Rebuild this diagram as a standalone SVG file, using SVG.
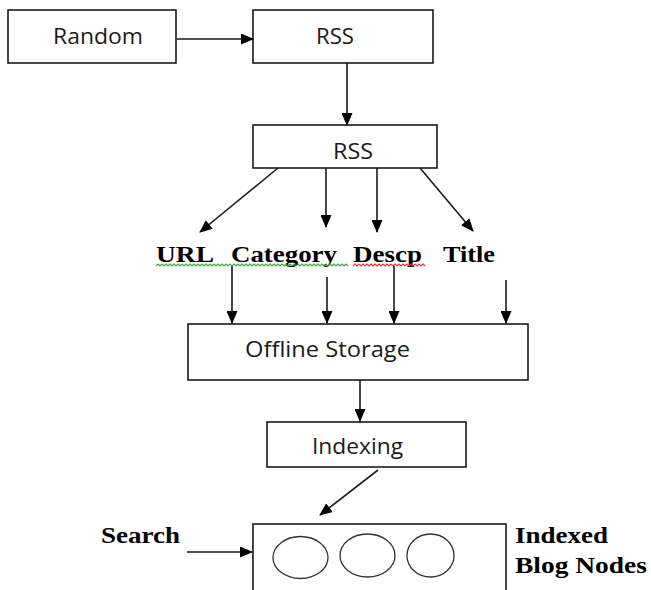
<svg xmlns="http://www.w3.org/2000/svg" width="651" height="590" viewBox="0 0 651 590">
<style>
.box{fill:#fff;stroke:#1a1a1a;stroke-width:1.6}
.t{font-family:"Open Sans","Liberation Sans",sans-serif;font-size:21px;fill:#1a1a1a}
.b{font-family:"Liberation Serif","Times New Roman",serif;font-weight:bold;font-size:24px;fill:#000}
.c{fill:none;stroke:#1a1a1a;stroke-width:1.6;marker-end:url(#ah)}
.e{fill:none;stroke:#333;stroke-width:1.3}
</style>
<defs>
<marker id="ah" markerWidth="13" markerHeight="11" refX="12" refY="5.5" orient="auto" markerUnits="userSpaceOnUse">
<path d="M0,0 L13,5.5 L0,11 Z" fill="#000"/>
</marker>
</defs>
<rect width="651" height="590" fill="#fff"/>
<g id="random"><rect class="box" x="8" y="10" width="168" height="53"/><text class="t" x="53" y="44" textLength="90" lengthAdjust="spacingAndGlyphs">Random</text></g>
<g id="rss1"><rect class="box" x="253" y="10" width="180" height="53"/><text class="t" x="316" y="44" textLength="38" lengthAdjust="spacingAndGlyphs">RSS</text></g>
<g id="rss2"><rect class="box" x="253" y="125" width="184" height="43"/><text class="t" x="333" y="159" textLength="40" lengthAdjust="spacingAndGlyphs">RSS</text></g>
<g id="url"><text class="b" x="156" y="262" textLength="58" lengthAdjust="spacingAndGlyphs">URL</text></g>
<g id="category"><text class="b" x="231" y="262" textLength="106" lengthAdjust="spacingAndGlyphs">Category</text></g>
<g id="descp"><text class="b" x="353" y="262" textLength="69" lengthAdjust="spacingAndGlyphs">Descp</text></g>
<g id="title"><text class="b" x="443" y="262" textLength="52" lengthAdjust="spacingAndGlyphs">Title</text></g>
<g id="squiggles">
<path d="M156,266 l2,-2 l2,2 l2,-2 l2,2 l2,-2 l2,2 l2,-2 l2,2 l2,-2 l2,2 l2,-2 l2,2 l2,-2 l2,2 l2,-2 l2,2 l2,-2 l2,2 l2,-2 l2,2 l2,-2 l2,2 l2,-2 l2,2 l2,-2 l2,2 l2,-2 l2,2 l2,-2 l2,2 l2,-2 l2,2 l2,-2 l2,2 l2,-2 l2,2 l2,-2 l2,2 l2,-2 l2,2 l2,-2 l2,2 l2,-2 l2,2 l2,-2 l2,2 l2,-2 l2,2 l2,-2 l2,2 l2,-2 l2,2 l2,-2 l2,2 l2,-2 l2,2 l2,-2 l2,2 l2,-2 l2,2 l2,-2 l2,2 l2,-2 l2,2 l2,-2 l2,2 l2,-2 l2,2 l2,-2 l2,2 l2,-2 l2,2 l2,-2 l2,2 l2,-2 l2,2 l2,-2 l2,2 l2,-2 l2,2 l2,-2 l2,2 l2,-2 l2,2 l2,-2 l2,2 l2,-2 l2,2 l2,-2 l2,2 l2,-2 l2,2 l2,-2 l2,2 l2,-2 l2,2" fill="none" stroke="#3a3" stroke-width="1.1"/>
<path d="M353,266 l2,-2 l2,2 l2,-2 l2,2 l2,-2 l2,2 l2,-2 l2,2 l2,-2 l2,2 l2,-2 l2,2 l2,-2 l2,2 l2,-2 l2,2 l2,-2 l2,2 l2,-2 l2,2 l2,-2 l2,2 l2,-2 l2,2 l2,-2 l2,2 l2,-2 l2,2 l2,-2 l2,2 l2,-2 l2,2 l2,-2 l2,2 l2,-2 l2,2" fill="none" stroke="#e33" stroke-width="1.1"/>
</g>
<g id="offline"><rect class="box" x="188" y="324" width="340" height="56"/><text class="t" x="245" y="357" textLength="165" lengthAdjust="spacingAndGlyphs">Offline Storage</text></g>
<g id="indexing"><rect class="box" x="267" y="422" width="199" height="45"/><text class="t" x="312" y="454" textLength="91" lengthAdjust="spacingAndGlyphs">Indexing</text></g>
<g id="blognodes"><rect class="box" x="253" y="524" width="253" height="76"/>
<ellipse class="e" cx="300.5" cy="557.5" rx="27.5" ry="21"/>
<ellipse class="e" cx="367.5" cy="555.5" rx="27.5" ry="21.5"/>
<ellipse class="e" cx="430.5" cy="555.5" rx="23.5" ry="21.5"/></g>
<g id="search"><text class="b" x="101" y="543" textLength="79" lengthAdjust="spacingAndGlyphs">Search</text></g>
<g id="indexedlabel"><text class="b" x="515" y="543" textLength="93" lengthAdjust="spacingAndGlyphs">Indexed</text><text class="b" x="515" y="573" textLength="132" lengthAdjust="spacingAndGlyphs">Blog Nodes</text></g>
<g id="connectors">
<path class="c" d="M177,39 L253,39"/>
<path class="c" d="M347,63 L347,125"/>
<path class="c" d="M278,168 L200,232"/>
<path class="c" d="M326,168 L326,227"/>
<path class="c" d="M377,168 L377,232"/>
<path class="c" d="M420,168 L473,231"/>
<path class="c" d="M232,266 L232,323"/>
<path class="c" d="M327,277 L327,323"/>
<path class="c" d="M394,266 L394,323"/>
<path class="c" d="M506,280 L506,323"/>
<path class="c" d="M360,380 L360,421"/>
<path class="c" d="M378,470 L320,515"/>
<path class="c" d="M187,552 L252,552"/>
</g>
</svg>
